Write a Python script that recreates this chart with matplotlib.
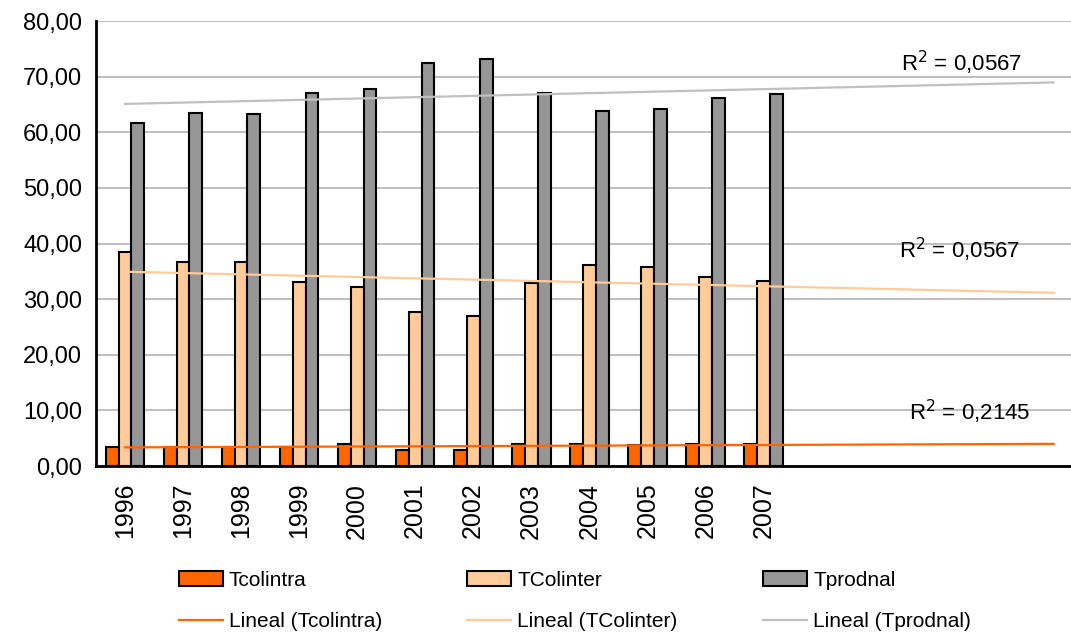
import matplotlib
matplotlib.use("Agg")
import matplotlib.pyplot as plt
import numpy as np

plt.rcParams["font.family"] = ["Liberation Sans", "DejaVu Sans"]

years = ["1996", "1997", "1998", "1999", "2000", "2001",
         "2002", "2003", "2004", "2005", "2006", "2007"]
tcolintra = [3.5, 3.5, 3.5, 3.5, 3.9, 2.8, 2.8, 3.9, 3.9, 3.7, 3.9, 3.9]
tcolinter = [38.4, 36.6, 36.6, 33.0, 32.2, 27.6, 26.9, 32.9, 36.2, 35.8, 34.0, 33.3]
tprodnal = [61.7, 63.5, 63.2, 67.1, 67.8, 72.5, 73.2, 67.1, 63.9, 64.2, 66.1, 66.8]
r2_labels = ["0,2145", "0,0567", "0,0567"]
names = ["Tcolintra", "TColinter", "Tprodnal"]
colors = ["#ff6600", "#ffcc99", "#969696"]
trend_colors = ["#ff6600", "#ffcc99", "#c0c0c0"]
forecast = 5  # periods projected forward by the trendlines

fig = plt.figure(figsize=(10.71, 6.33), dpi=100)
ax = fig.add_axes([0.0896, 0.2638, 0.9104, 0.703])

x = np.arange(len(years))
width = 0.222
series = [tcolintra, tcolinter, tprodnal]
bars = []
for k, vals in enumerate(series):
    b = ax.bar(x + (k - 1) * width, vals, width=width, color=colors[k],
               edgecolor="black", linewidth=1.5, zorder=3, label=names[k])
    bars.append(b)

# linear trendlines, extended forward
lines = []
xt = np.array([0, len(years) - 1 + forecast])
r2_pos = [(970, 412), (960, 250), (962, 63)]
for k, vals in enumerate(series):
    m, c = np.polyfit(x, vals, 1)
    ln, = ax.plot(xt, m * xt + c, color=trend_colors[k], linewidth=1.6,
                  zorder=4, label=f"Lineal ({names[k]})")
    lines.append(ln)

for k in range(3):
    px, py = r2_pos[k]
    fig.text(px / 1071, 1 - py / 633, "R$^2$ = " + r2_labels[k],
             fontsize=16, ha="center", va="center")

ax.set_xlim(-0.5, 16.3)
ax.set_ylim(0, 80)
ax.set_yticks(np.arange(0, 81, 10))
ax.set_yticklabels([f"{v:.2f}".replace(".", ",") for v in np.arange(0, 81, 10)],
                   fontsize=17)
ax.set_xticks(x)
ax.set_xticklabels(years, rotation=90, fontsize=18)
ax.tick_params(axis="both", length=0)
ax.tick_params(axis="x", pad=12)
ax.tick_params(axis="y", pad=10)
ax.grid(axis="y", color="#c0c0c0", linewidth=1.5, zorder=0)
ax.set_axisbelow(True)
for s in ["top", "right"]:
    ax.spines[s].set_visible(False)
for s in ["left", "bottom"]:
    ax.spines[s].set_linewidth(2)
    ax.spines[s].set_color("black")

handles = [bars[0], lines[0], bars[1], lines[1], bars[2], lines[2]]
labels = [h.get_label() for h in handles]
fig.legend(handles, labels, ncol=3, loc="center left",
           bbox_to_anchor=(160 / 1071, 1 - 601 / 633), frameon=False,
           fontsize=15, handlelength=2.1, handleheight=0.7,
           handletextpad=0.3, columnspacing=4.1, labelspacing=1.05)

fig.savefig("out.png", dpi=100)
